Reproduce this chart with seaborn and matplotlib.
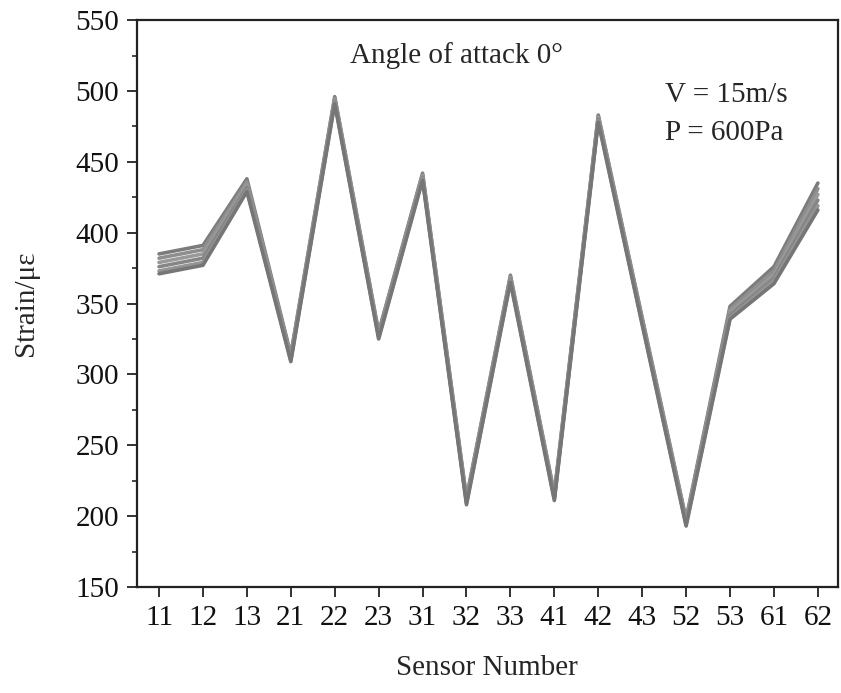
import pandas as pd
import seaborn as sns
import matplotlib.pyplot as plt
from matplotlib.ticker import MultipleLocator

sensors = ['11', '12', '13', '21', '22', '23', '31', '32',
           '33', '41', '42', '43', '52', '53', '61', '62']

run_1 = [385, 391, 438, 314, 496, 330, 442, 213, 370, 216, 483, 340, 198, 348, 376, 435]
run_2 = [382, 388, 436, 313, 495, 329, 441, 212, 369, 215, 482, 339, 197, 346, 373, 431]
run_3 = [379, 385, 434, 312, 494, 328, 440, 211, 368, 214, 481, 338, 196, 344, 370, 427]
run_4 = [376, 382, 432, 311, 493, 327, 439, 210, 367, 213, 480, 337, 195, 342, 368, 423]
run_5 = [373, 379, 430, 310, 492, 326, 438, 209, 366, 212, 479, 336, 194, 340, 366, 419]
run_6 = [371, 377, 429, 309, 491, 325, 437, 208, 365, 211, 478, 335, 193, 339, 364, 416]

runs = {'run 1': run_1, 'run 2': run_2, 'run 3': run_3,
        'run 4': run_4, 'run 5': run_5, 'run 6': run_6}
run_colors = ['#7c7c7c', '#8e8e8e', '#999999', '#868686', '#949494', '#767676']

rows = []
for name, values in runs.items():
    for s, v in zip(sensors, values):
        rows.append({'sensor': s, 'strain': v, 'run': name})
data = pd.DataFrame(rows)

sns.set_style('ticks')
plt.rcParams['font.family'] = ['Liberation Serif', 'DejaVu Serif']

fig = plt.figure(figsize=(8.41, 6.93), dpi=100)
ax = fig.add_axes([0.163, 0.153, 0.833, 0.818])

sns.lineplot(data=data, x='sensor', y='strain', hue='run', palette=run_colors,
             sort=False, linewidth=2.6, legend=False, ax=ax)

ax.set_xlim(-0.5, 15.45)
ax.set_ylim(150, 550)
ax.yaxis.set_major_locator(MultipleLocator(50))
ax.yaxis.set_minor_locator(MultipleLocator(25))

for side in ['left', 'right', 'top', 'bottom']:
    ax.spines[side].set_visible(True)
    ax.spines[side].set_linewidth(1.6)
    ax.spines[side].set_color('#222222')

ax.tick_params(axis='both', which='major', direction='out', length=7, width=1.3,
               labelsize=21, pad=6, colors='#222222', labelcolor='#111111')
ax.tick_params(axis='y', which='minor', direction='out', length=3.5, width=1.2)
ax.tick_params(top=False, right=False)

ax.set_xlabel('Sensor Number', fontsize=21, labelpad=17)
ax.set_ylabel('Strain/με', fontsize=21, labelpad=26)

ax.text(6.77, 525, 'Angle of attack 0°', fontsize=21, ha='center', va='center')
ax.text(11.53, 497, 'V = 15m/s', fontsize=21, ha='left', va='center')
ax.text(11.53, 470, 'P = 600Pa', fontsize=21, ha='left', va='center')

fig.savefig('out.png', dpi=100)
